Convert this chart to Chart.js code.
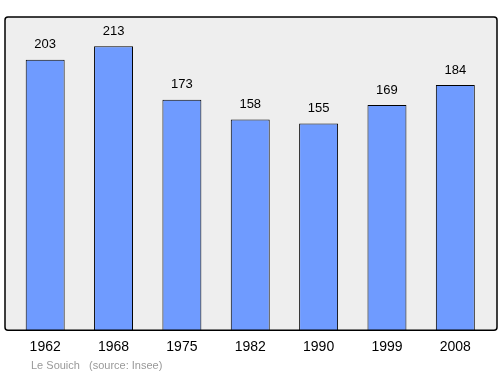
<!DOCTYPE html>
<html>
<head>
<meta charset="utf-8">
<script src="https://cdn.jsdelivr.net/npm/chart.js@4/dist/chart.umd.min.js"></script>
<style>
  html, body { margin: 0; padding: 0; background: #ffffff; }
  #wrap { width: 500px; height: 374px; }
</style>
</head>
<body>
<div id="wrap"><canvas id="popChart" width="500" height="374"></canvas></div>
<script>
// population data
const years = ["1962", "1968", "1975", "1982", "1990", "1999", "2008"];
const population = [203, 213, 173, 158, 155, 169, 184];
const footerName = "Le Souich";
const footerSource = "(source: Insee)";

const FONT = "'Liberation Sans', Arial, sans-serif";

// gray plot frame behind bars, black outline on top
const framePlugin = {
    id: "frame",
    beforeDatasetsDraw(chart){
        const a = chart.chartArea;
        const ctx = chart.ctx;
        ctx.save();
        ctx.fillStyle = "#eeeeee";
        ctx.beginPath();
        ctx.roundRect(a.left - 6, a.top, (a.right + 7.5) - (a.left - 6), a.bottom - a.top, 3);
        ctx.fill();
        ctx.restore();
    },
    afterDatasetsDraw(chart){
        const a = chart.chartArea;
        const ctx = chart.ctx;
        ctx.save();
        ctx.strokeStyle = "#000000";
        ctx.lineWidth = 1.5;
        ctx.beginPath();
        ctx.roundRect(a.left - 6, a.top, (a.right + 7.5) - (a.left - 6), a.bottom - a.top, 3);
        ctx.stroke();
        ctx.restore();
    }
};

// value labels above bars + footer text
const labelPlugin = {
    id: "valueLabels",
    afterDraw(chart){
        const ctx = chart.ctx;
        const meta = chart.getDatasetMeta(0);
        ctx.save();
        ctx.fillStyle = "#000000";
        ctx.font = "13px " + FONT;
        ctx.textAlign = "center";
        ctx.textBaseline = "middle";
        meta.data.forEach((bar, i)=>{
            ctx.fillText(String(population[i]), bar.x, bar.y - 15);
        });
        ctx.fillStyle = "#999999";
        ctx.font = "11px " + FONT;
        ctx.textAlign = "left";
        ctx.fillText(footerName, 31, 366);
        ctx.fillText(footerSource, 89, 366);
        ctx.restore();
    }
};

new Chart(document.getElementById("popChart"), {
    type: "bar",
    data: {
        labels: years,
        datasets: [{
            data: population,
            backgroundColor: "#6f9bff",
            borderColor: "#000000",
            borderWidth: 1,
            barPercentage: 0.57,
            categoryPercentage: 1
        }]
    },
    options: {
        responsive: false,
        animation: false,
        devicePixelRatio: 1,
        layout: {
            padding: { left: 11, right: 10.5, top: 17, bottom: 9 }
        },
        plugins: {
            legend: { display: false },
            tooltip: { enabled: false }
        },
        scales: {
            x: {
                grid: { display: false, drawTicks: false },
                border: { display: false },
                ticks: {
                    color: "#000000",
                    font: { family: FONT, size: 14 },
                    padding: 9,
                    maxRotation: 0
                }
            },
            y: {
                display: false,
                min: 0,
                max: 235
            }
        }
    },
    plugins: [framePlugin, labelPlugin]
});
</script>
</body>
</html>
